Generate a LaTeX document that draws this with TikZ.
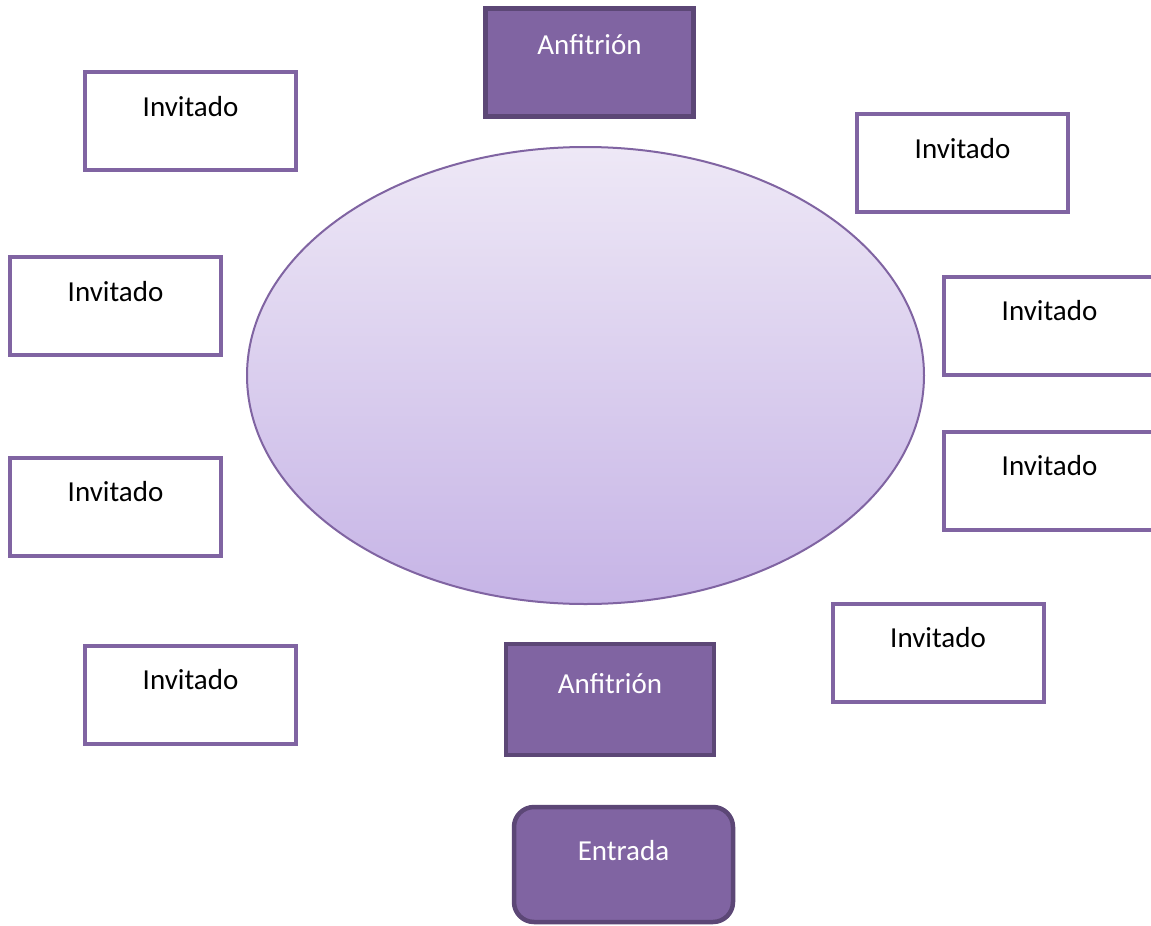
\documentclass[tikz,border=0pt]{standalone}
\usepackage{fontspec}
\setmainfont{Carlito}
\usetikzlibrary{shapes.geometric}
\definecolor{purp}{HTML}{8064A2}
\definecolor{purpdark}{HTML}{5C4776}
\definecolor{elltop}{HTML}{EEE8F6}
\definecolor{ellbot}{HTML}{C6B4E6}
\tikzset{
  guest/.style={draw=purp, line width=4pt, fill=white, inner sep=0pt,
    minimum width=211pt, text height=44pt, text depth=54pt,
    font=\fontsize{29}{30}\selectfont, text=black},
  host/.style={draw=purpdark, line width=4.5pt, fill=purp, inner sep=0pt,
    minimum width=208pt, font=\fontsize{29}{30}\selectfont, text=white},
}
\begin{document}
\begin{tikzpicture}[x=1pt,y=-1pt]
\useasboundingbox (0,0) rectangle (1151,926);
\clip (0,0) rectangle (1151,926);
\fill[white] (0,0) rectangle (1151,926);
% table
\node[ellipse, draw=purp, line width=2pt, top color=elltop, bottom color=ellbot,
  minimum width=677pt, minimum height=457pt, inner sep=0pt] (table) at (585.5,375.5) {};
% hosts
\node[host, text height=46pt, text depth=62pt] (host1) at (589.5,62.5) {Anfitrión};
\node[host, text height=49pt, text depth=62pt] (host2) at (610,699.5) {Anfitrión};
\node[host, rounded corners=20pt, minimum width=219pt, text height=53pt, text depth=62pt] (door) at (623.5,864.5) {Entrada};
% guests
\node[guest] (g1) at (190.5,121) {Invitado};
\node[guest] (g2) at (962.5,163) {Invitado};
\node[guest] (g3) at (115.5,306) {Invitado};
\node[guest] (g4) at (1049.5,325.5) {Invitado};
\node[guest] (g5) at (1049.5,480.5) {Invitado};
\node[guest] (g6) at (115.5,506.5) {Invitado};
\node[guest] (g7) at (938,652.5) {Invitado};
\node[guest] (g8) at (190.5,694.5) {Invitado};
\end{tikzpicture}
\end{document}
